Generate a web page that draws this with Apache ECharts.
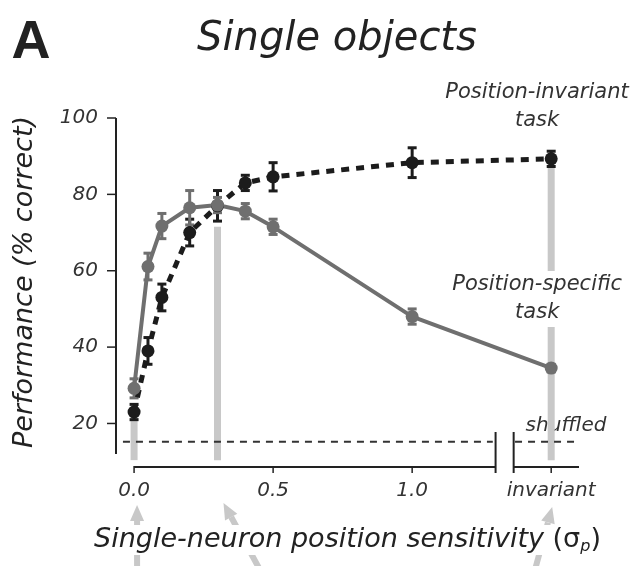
<!DOCTYPE html>
<html>
<head>
<meta charset="utf-8">
<script src="https://cdn.jsdelivr.net/npm/echarts@6/dist/echarts.min.js"></script>
<style>
  html, body { margin: 0; padding: 0; background: #fff; }
  #chart { width: 636px; height: 566px; }
</style>
</head>
<body>
<div id="chart"></div>
<script>
// Single-neuron position sensitivity (sigma_p); 1.5 stands for the "invariant" column
const sigmaValues = [0, 0.05, 0.1, 0.2, 0.3, 0.4, 0.5, 1.0, 1.5];

// Position-invariant task: mean % correct and error
const invariantTask = [23, 39, 53, 70, 77, 83, 84.6, 88.3, 89.3];
const invariantErr  = [2, 3.5, 3.5, 3.5, 4, 2, 3.7, 3.9, 2];

// Position-specific task: mean % correct and error
const specificTask = [29.2, 61.1, 71.7, 76.5, 77.2, 75.6, 71.5, 48, 34.5];
const specificErr  = [2.5, 3.5, 3.3, 4.5, 2, 2, 2, 2, 1];

// Chance level from shuffled labels
const shuffledLevel = 15.2;
const shuffledSegments = [[-0.04, 1.29], [1.37, 1.6]];

// Highlighted sensitivities (light vertical bars)
const highlightSigma = [0, 0.3, 1.5];
const highlightTop   = [23, 71.5, 87];
const highlightBase  = 10.4;

// Axis ticks and labels
const xTickValues = [0, 0.5, 1.0, 1.5];
const xTickLabels = ['0.0', '0.5', '1.0', 'invariant'];
const yTickValues = [20, 40, 60, 80, 100];

// Broken x axis and the drawn extent of the y axis
const xAxisSegments = [[0, 1.3], [1.365, 1.6]];
const xAxisBreakEdges = [1.3, 1.365];
const yAxisSpan = [12, 100];

const FONT = '"DejaVu Sans", "Liberation Sans", sans-serif';
const DARK = '#1c1c1c';
const GREY = '#6f6f6f';
const LIGHT = '#c8c8c8';
const AXIS = '#222222';
const TEXT = '#333333';

// plotting ranges: a little room left of 0 separates the y axis from the data,
// and the x baseline sits below the lowest drawn y value
const X_MIN = -0.065, X_MAX = 1.6;
const Y_MIN = 8.6, Y_MAX = 100;

function errorBars(color) {
  return function (params, api) {
    const x = api.value(0), y = api.value(1), e = api.value(2);
    const top = api.coord([x, y + e]);
    const bot = api.coord([x, y - e]);
    const hw = 4.5;
    const st = { stroke: color, lineWidth: 3 };
    return {
      type: 'group',
      children: [
        { type: 'line', shape: { x1: top[0], y1: top[1], x2: bot[0], y2: bot[1] }, style: st },
        { type: 'line', shape: { x1: top[0] - hw, y1: top[1], x2: top[0] + hw, y2: top[1] }, style: st },
        { type: 'line', shape: { x1: bot[0] - hw, y1: bot[1], x2: bot[0] + hw, y2: bot[1] }, style: st }
      ]
    };
  };
}

// Arrow annotations under the axis, relative to the tick they point at
const ARROWS = [
  { tipDx: 3, tipDy: 38, tailDx: 0, tailDy: 64 },
  { tipDx: 6, tipDy: 36, tailDx: 36, tailDy: 66 },
  { tipDx: 1, tipDy: 40, tailDx: -17, tailDy: 62 }
];

const option = {
  animation: false,
  grid: { left: 116, right: 57, top: 118, bottom: 99, containLabel: false },
  xAxis: {
    type: 'value',
    min: X_MIN,
    max: X_MAX,
    z: 10,
    splitLine: { show: false },
    axisLine: { show: false },
    axisTick: { show: false },
    axisLabel: {
      customValues: xTickValues,
      formatter: function (v) {
        const i = xTickValues.indexOf(v);
        return i >= 0 ? xTickLabels[i] : '';
      },
      margin: 14,
      color: TEXT,
      fontFamily: FONT,
      fontStyle: 'italic',
      fontSize: 20
    },
    name: 'Single-neuron position sensitivity {u|(σ}{sub|p}{u|)}',
    nameLocation: 'middle',
    nameGap: 58,
    nameTextStyle: {
      fontFamily: FONT,
      fontStyle: 'italic',
      fontSize: 27,
      lineHeight: 30,
      color: '#222',
      backgroundColor: '#ffffff',
      rich: {
        u: { fontFamily: FONT, fontStyle: 'normal', fontSize: 27, lineHeight: 30, color: '#222' },
        sub: { fontFamily: FONT, fontStyle: 'italic', fontSize: 16, lineHeight: 16, verticalAlign: 'bottom', color: '#222' }
      }
    }
  },
  yAxis: {
    type: 'value',
    min: Y_MIN,
    max: Y_MAX,
    splitLine: { show: false },
    axisLine: { show: false },
    axisTick: { show: false },
    axisLabel: {
      customValues: yTickValues,
      margin: 18,
      color: TEXT,
      fontFamily: FONT,
      fontStyle: 'italic',
      fontSize: 20
    }
  },
  graphic: [
    { type: 'text', x: 31, y: 43, style: { text: 'A', fontFamily: '"Liberation Sans", Arial, sans-serif', fontWeight: 'bold', fontSize: 54, fill: '#222', align: 'center', verticalAlign: 'middle' } },
    { type: 'text', x: 337, y: 40, style: { text: 'Single objects', fontFamily: FONT, fontStyle: 'italic', fontSize: 40, fill: '#222', align: 'center', verticalAlign: 'middle' } },
    { type: 'text', x: 25, y: 282, rotation: Math.PI / 2, style: { text: 'Performance (% correct)', fontFamily: FONT, fontStyle: 'italic', fontSize: 27, fill: '#222', align: 'center', verticalAlign: 'middle' } },
    { type: 'text', x: 537, y: 107, style: { text: 'Position-invariant\ntask', fontFamily: FONT, fontStyle: 'italic', fontSize: 21, lineHeight: 28, fill: TEXT, align: 'center', verticalAlign: 'middle' } },
    { type: 'text', x: 566, y: 426, style: { text: 'shuffled', fontFamily: FONT, fontStyle: 'italic', fontSize: 20, fill: TEXT, align: 'center', verticalAlign: 'middle' } }
  ],
  series: [
    {
      // light vertical bars marking the highlighted sensitivities
      type: 'custom',
      clip: false,
      silent: true,
      data: highlightSigma.map((s, i) => [s, highlightTop[i]]),
      encode: { x: 0, y: 1 },
      renderItem: function (params, api) {
        const top = api.coord([api.value(0), api.value(1)]);
        const bot = api.coord([api.value(0), highlightBase]);
        const w = 7;
        return { type: 'rect', shape: { x: top[0] - w / 2, y: top[1], width: w, height: bot[1] - top[1] }, style: { fill: LIGHT } };
      }
    },
    {
      // y-axis line over its drawn span, with outward ticks
      type: 'custom',
      clip: false,
      silent: true,
      data: [yAxisSpan],
      encode: { y: [0, 1] },
      renderItem: function (params, api) {
        const a = api.coord([X_MIN, api.value(0)]);
        const b = api.coord([X_MIN, api.value(1)]);
        const children = [
          { type: 'line', shape: { x1: a[0], y1: a[1], x2: b[0], y2: b[1] }, style: { stroke: AXIS, lineWidth: 2 } }
        ];
        yTickValues.forEach(function (v) {
          const p = api.coord([X_MIN, v]);
          children.push({ type: 'line', shape: { x1: p[0] - 9, y1: p[1], x2: p[0], y2: p[1] }, style: { stroke: AXIS, lineWidth: 1.5 } });
        });
        return { type: 'group', children: children };
      }
    },
    {
      // broken x-axis baseline
      type: 'custom',
      clip: false,
      silent: true,
      data: xAxisSegments,
      encode: { x: [0, 1] },
      renderItem: function (params, api) {
        const a = api.coord([api.value(0), Y_MIN]);
        const b = api.coord([api.value(1), Y_MIN]);
        return { type: 'line', shape: { x1: a[0], y1: a[1], x2: b[0], y2: b[1] }, style: { stroke: AXIS, lineWidth: 2 } };
      }
    },
    {
      // x-axis ticks
      type: 'custom',
      clip: false,
      silent: true,
      data: xTickValues.map(v => [v]),
      encode: { x: 0 },
      renderItem: function (params, api) {
        const p = api.coord([api.value(0), Y_MIN]);
        return { type: 'line', shape: { x1: p[0], y1: p[1] - 1, x2: p[0], y2: p[1] + 6 }, style: { stroke: AXIS, lineWidth: 1.5 } };
      }
    },
    {
      // break marks on the x axis
      type: 'custom',
      clip: false,
      silent: true,
      data: xAxisBreakEdges.map(v => [v]),
      encode: { x: 0 },
      renderItem: function (params, api) {
        const p = api.coord([api.value(0), Y_MIN]);
        return { type: 'line', shape: { x1: p[0], y1: p[1] - 35, x2: p[0], y2: p[1] + 6 }, style: { stroke: AXIS, lineWidth: 2 } };
      }
    },
    {
      // shuffled-label chance level
      type: 'custom',
      clip: false,
      silent: true,
      data: shuffledSegments,
      encode: { x: [0, 1] },
      renderItem: function (params, api) {
        const a = api.coord([api.value(0), shuffledLevel]);
        const b = api.coord([api.value(1), shuffledLevel]);
        return { type: 'line', shape: { x1: a[0], y1: a[1], x2: b[0], y2: b[1] }, style: { stroke: '#333', lineWidth: 2, lineDash: [7, 6] } };
      }
    },
    {
      // arrows below the axis pointing at the highlighted sensitivities
      type: 'custom',
      clip: false,
      silent: true,
      data: highlightSigma.map(s => [s]),
      encode: { x: 0 },
      renderItem: function (params, api) {
        const g = ARROWS[params.dataIndex];
        const p = api.coord([api.value(0), Y_MIN]);
        const tip = [p[0] + g.tipDx, p[1] + g.tipDy];
        const tail = [tip[0] + g.tailDx, tip[1] + g.tailDy];
        const dx = tip[0] - tail[0], dy = tip[1] - tail[1];
        const len = Math.sqrt(dx * dx + dy * dy);
        const ux = dx / len, uy = dy / len;
        const hl = 16, hw = 7;
        const bx = tip[0] - ux * hl, by = tip[1] - uy * hl;
        const nx = -uy, ny = ux;
        return {
          type: 'group',
          children: [
            { type: 'line', shape: { x1: tail[0], y1: tail[1], x2: bx, y2: by }, style: { stroke: LIGHT, lineWidth: 6 } },
            { type: 'polygon', shape: { points: [tip, [bx + nx * hw, by + ny * hw], [bx - nx * hw, by - ny * hw]] }, style: { fill: LIGHT } }
          ]
        };
      }
    },
    {
      name: 'Position-invariant task',
      type: 'line',
      data: sigmaValues.map((s, i) => [s, invariantTask[i]]),
      symbol: 'circle',
      symbolSize: 13,
      itemStyle: { color: DARK },
      lineStyle: { color: DARK, width: 5, type: [8, 7] }
    },
    {
      type: 'custom',
      silent: true,
      data: sigmaValues.map((s, i) => [s, invariantTask[i], invariantErr[i]]),
      encode: { x: 0, y: 1 },
      renderItem: errorBars(DARK)
    },
    {
      name: 'Position-specific task',
      type: 'line',
      data: sigmaValues.map((s, i) => [s, specificTask[i]]),
      symbol: 'circle',
      symbolSize: 13,
      itemStyle: { color: GREY },
      lineStyle: { color: GREY, width: 4 }
    },
    {
      type: 'custom',
      silent: true,
      data: sigmaValues.map((s, i) => [s, specificTask[i], specificErr[i]]),
      encode: { x: 0, y: 1 },
      renderItem: errorBars(GREY)
    },
    {
      // label for the position-specific curve, sitting on the invariant bar
      type: 'custom',
      clip: false,
      silent: true,
      z: 5,
      data: [[1.5, 52.6]],
      encode: { x: 0, y: 1 },
      renderItem: function (params, api) {
        const p = api.coord([api.value(0), api.value(1)]);
        return {
          type: 'text',
          x: p[0] - 14,
          y: p[1],
          style: {
            text: 'Position-specific\ntask',
            fontFamily: FONT, fontStyle: 'italic', fontSize: 21, lineHeight: 28,
            fill: TEXT, align: 'center', verticalAlign: 'middle',
            backgroundColor: '#fff'
          }
        };
      }
    }
  ]
};

const chart = echarts.init(document.getElementById('chart'), null, { renderer: 'canvas' });
chart.setOption(option);
</script>
</body>
</html>
